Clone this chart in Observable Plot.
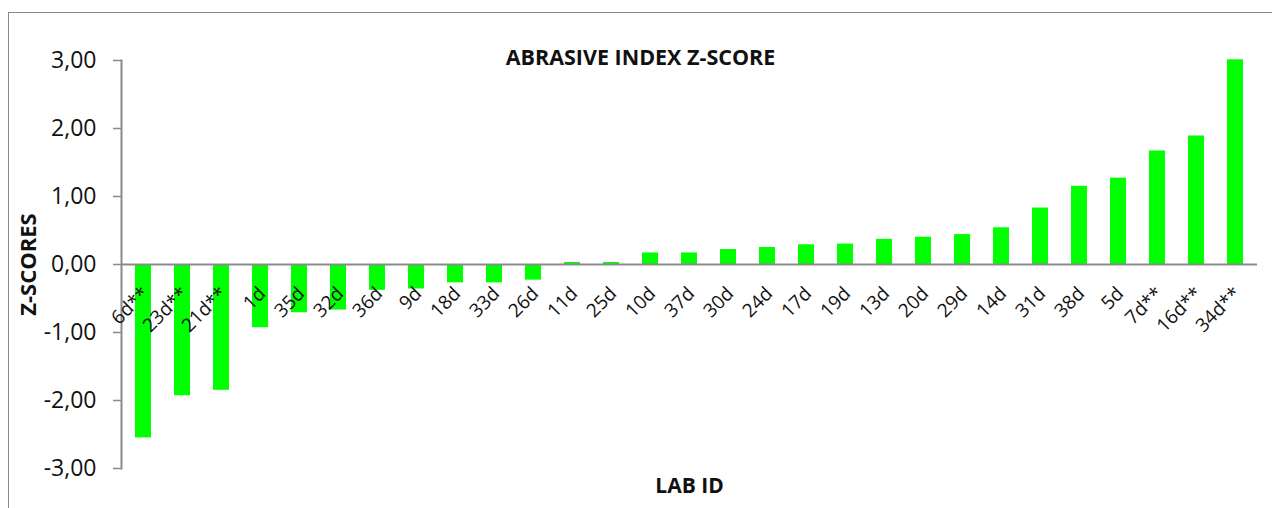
<!DOCTYPE html>
<html>
<head>
<meta charset="utf-8">
<script src="https://cdn.jsdelivr.net/npm/d3@7"></script>
<script src="https://cdn.jsdelivr.net/npm/@observablehq/plot@0.6"></script>
<style>
  html, body { margin: 0; padding: 0; background: #fff; }
  #wrap { position: relative; width: 1272px; height: 508px; overflow: hidden; }
  #border { position: absolute; left: 8px; top: 12px; width: 1300px; height: 540px;
            border-left: 1.5px solid #8a8a8a; border-top: 1.5px solid #8a8a8a; pointer-events: none; }
  svg { display: block; }
</style>
</head>
<body>
<div id="wrap"><div id="border"></div></div>
<script>
const labs = ["6d**","23d**","21d**","1d","35d","32d","36d","9d","18d","33d","26d","11d","25d","10d","37d","30d","24d","17d","19d","13d","20d","29d","14d","31d","38d","5d","7d**","16d**","34d**"];
const scores = [-2.55,-1.93,-1.85,-0.93,-0.71,-0.67,-0.38,-0.36,-0.27,-0.27,-0.23,0.03,0.03,0.17,0.17,0.22,0.25,0.29,0.30,0.37,0.40,0.44,0.54,0.83,1.15,1.27,1.67,1.89,3.01];
const yTicks = [-3,-2,-1,0,1,2,3];
const title = "ABRASIVE INDEX Z-SCORE";
const yLabel = "Z-SCORES";
const xLabel = "LAB ID";

const data = labs.map((lab, i) => ({lab, score: scores[i]}));
const fmt = d => d.toFixed(2).replace(".", ",");
const font = "'Open Sans', sans-serif";

const chart = Plot.plot({
  width: 1272,
  height: 508,
  marginLeft: 121,
  marginRight: 15,
  marginTop: 60,
  marginBottom: 40,
  style: {fontFamily: font, background: "transparent", overflow: "visible"},
  x: {domain: labs, paddingInner: 0.6, paddingOuter: 0.3, axis: null},
  y: {domain: [-3, 3], ticks: yTicks},
  marks: [
    Plot.axisY({ticks: yTicks, tickFormat: fmt, tickSize: 8, tickPadding: 17, fontSize: 23, stroke: "#8a8a8a", strokeWidth: 1.5, fill: "#111", label: null}),
    Plot.frame({anchor: "left", stroke: "#8a8a8a", strokeWidth: 2}),
    Plot.barY(data, {x: "lab", y: "score", fill: "#00ff00"}),
    Plot.ruleY([0], {stroke: "#8a8a8a", strokeWidth: 2}),
    Plot.text(data, {x: "lab", y: 0, text: "lab", rotate: -45, textAnchor: "end", dx: 2, dy: 26, fontSize: 19, fill: "#111"}),
    Plot.text([title], {frameAnchor: "top", dx: -49, dy: -11, fontSize: 21.5, fontWeight: "bold", fill: "#111"}),
    Plot.text([xLabel], {frameAnchor: "bottom", dy: 24, fontSize: 21, fontWeight: "bold", fill: "#111"}),
    Plot.text([yLabel], {frameAnchor: "left", textAnchor: "middle", dx: -93, rotate: -90, fontSize: 22, fontWeight: "bold", fill: "#111"})
  ]
});
document.getElementById("wrap").prepend(chart);
</script>
</body>
</html>
